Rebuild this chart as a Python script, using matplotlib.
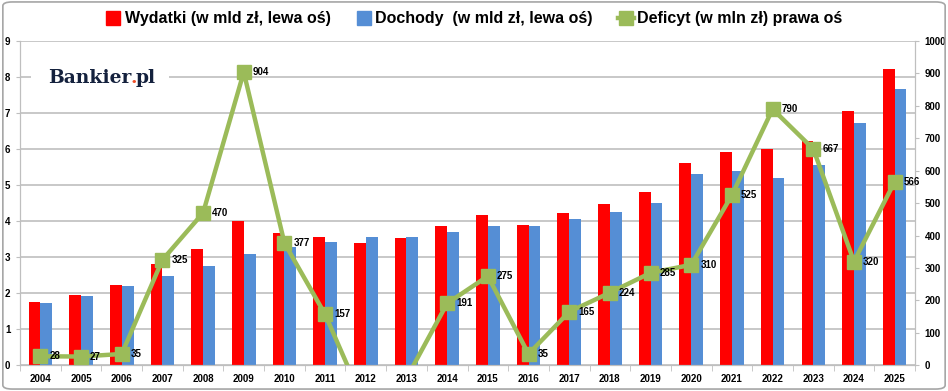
import matplotlib

matplotlib.use("Agg")
import matplotlib.pyplot as plt
import numpy as np
from matplotlib.lines import Line2D
from matplotlib.patches import FancyBboxPatch, Rectangle

years = list(range(2004, 2026))
wydatki = [1.75, 1.94, 2.22, 2.80, 3.23, 4.00, 3.66, 3.56, 3.40, 3.52, 3.87,
           4.17, 3.90, 4.22, 4.49, 4.81, 5.61, 5.91, 6.00, 6.23, 7.05, 8.23]
dochody = [1.72, 1.93, 2.19, 2.47, 2.76, 3.08, 3.27, 3.42, 3.56, 3.56, 3.69,
           3.88, 3.87, 4.05, 4.26, 4.50, 5.31, 5.38, 5.21, 5.57, 6.73, 7.67]
deficyt = [28, 27, 35, 325, 470, 904, 377, 157, -130, -40, 191,
           275, 35, 165, 224, 285, 310, 525, 790, 667, 320, 566]

RED = "#FF0000"
BLUE = "#558ED5"
GREEN = "#9BBB59"
GRID = "#BFBFBF"
NAVY = "#14213D"

plt.rcParams["font.family"] = ["Liberation Sans Narrow", "Liberation Sans", "DejaVu Sans"]

fig = plt.figure(figsize=(9.48, 3.91), dpi=100)
ax = fig.add_axes([0.0211, 0.0657, 0.9441, 0.8294])
ax2 = ax.twinx()

x = np.arange(len(years))
w = 0.29
ax.bar(x - w / 2, wydatki, width=w, color=RED, zorder=2)
ax.bar(x + w / 2, dochody, width=w, color=BLUE, zorder=2)

ax.set_xlim(-0.5, len(years) - 0.5)
ax.set_ylim(0, 9)
ax.set_yticks(range(0, 10))
ax.yaxis.grid(True, color=GRID, linewidth=1.2, zorder=0)
ax.set_axisbelow(True)
ax.set_xticks(x)
ax.set_xticklabels([str(y) for y in years], fontsize=7, fontweight="bold")
ax.set_xticks(np.arange(-0.5, len(years), 1), minor=True)
ax.tick_params(axis="x", which="major", length=0, pad=6)
ax.tick_params(axis="x", which="minor", length=4, color=GRID)
ax.tick_params(axis="y", labelsize=7, length=3, color=GRID, pad=4)
for lbl in ax.get_yticklabels():
    lbl.set_fontweight("bold")
for side in ["left", "bottom", "right"]:
    ax.spines[side].set_color(GRID)
ax.spines["top"].set_visible(False)

ax2.plot(x, deficyt, color=GREEN, linewidth=3.2, marker="s", markersize=9.5, zorder=3)
ax2.set_ylim(0, 1000)
ax2.set_yticks(range(0, 1001, 100))
ax2.tick_params(axis="y", labelsize=7, length=3, color=GRID, pad=4)
for lbl in ax2.get_yticklabels():
    lbl.set_fontweight("bold")
for side in ["left", "bottom", "right"]:
    ax2.spines[side].set_color(GRID)
ax2.spines["top"].set_visible(False)

for xi, v in zip(x, deficyt):
    if v >= 0:
        ax2.annotate(str(v), (xi, v), xytext=(6.5, 0), textcoords="offset points",
                     ha="left", va="center", fontsize=7, fontweight="bold",
                     family=["Liberation Sans", "DejaVu Sans"])

handles = [
    Line2D([], [], linestyle="none", marker="s", markersize=10, color=RED),
    Line2D([], [], linestyle="none", marker="s", markersize=10, color=BLUE),
    Line2D([], [], color=GREEN, linewidth=3.2, marker="s", markersize=10),
]
labels = ["Wydatki (w mld zł, lewa oś)", "Dochody  (w mld zł, lewa oś)", "Deficyt (w mln zł) prawa oś"]
fig.legend(handles, labels, loc="center", bbox_to_anchor=(0.5, 0.952), ncol=3, frameon=False,
           prop={"size": 11.5, "weight": "bold"}, handlelength=1.0, handletextpad=0.2,
           columnspacing=1.6)

# logo with white backing that interrupts the gridline
ax.add_patch(Rectangle((0.012, 0.83), 0.155, 0.11, transform=ax.transAxes,
                       facecolor="white", edgecolor="none", zorder=4))
logo_y = 0.885
logo_kw = dict(transform=ax.transAxes, fontsize=13.5, fontweight="bold",
               family="DejaVu Serif", va="center", ha="left", zorder=6)
t1 = ax.text(0.031, logo_y, "Bankier", color=NAVY, **logo_kw)
fig.canvas.draw()
bb = t1.get_window_extent().transformed(ax.transAxes.inverted())
t2 = ax.text(bb.x1 - 0.001, logo_y, ".", color="#F0502A", **logo_kw)
fig.canvas.draw()
bb2 = t2.get_window_extent().transformed(ax.transAxes.inverted())
ax.text(bb2.x1 - 0.001, logo_y, "pl", color=NAVY, **logo_kw)

frame = FancyBboxPatch((0.003, 0.005), 0.994, 0.99, boxstyle="round,pad=0,rounding_size=0.01",
                       transform=fig.transFigure, facecolor="none", edgecolor="#A6A6A6",
                       linewidth=1.2)
fig.patches.append(frame)

fig.savefig("out.png", dpi=100)
